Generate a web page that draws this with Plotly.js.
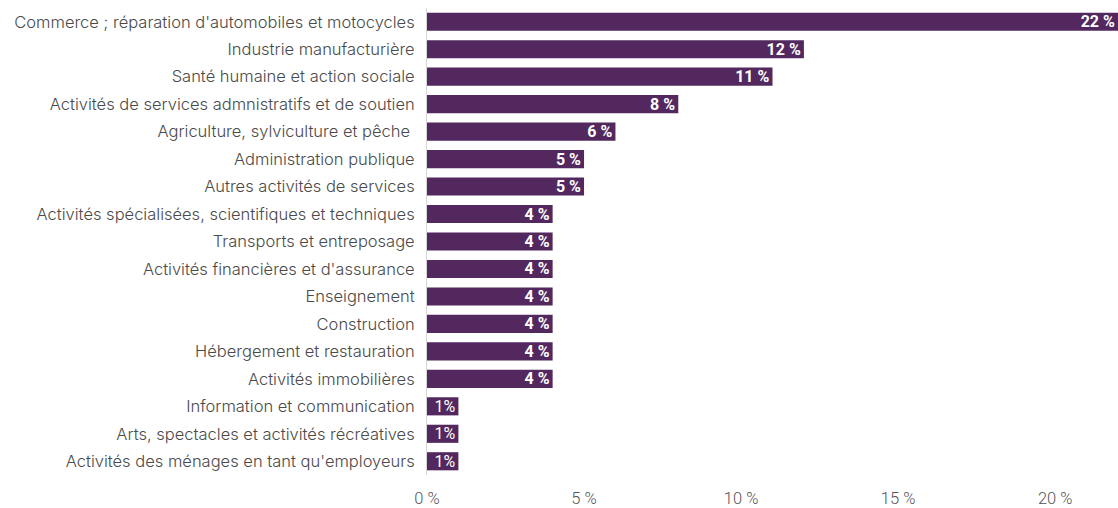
<!DOCTYPE html>
<html><head><meta charset="utf-8">
<script src="https://cdn.plot.ly/plotly-3.0.1.min.js"></script>
<style>html,body{margin:0;padding:0;background:#fff;}#chart{width:1118px;height:508px;}</style>
</head><body><div id="chart"></div>
<script>
const categories = [
  "Commerce ; réparation d'automobiles et motocycles",
  "Industrie manufacturière",
  "Santé humaine et action sociale",
  "Activités de services admnistratifs et de soutien",
  "Agriculture, sylviculture et pêche ",
  "Administration publique",
  "Autres activités de services",
  "Activités spécialisées, scientifiques et techniques",
  "Transports et entreposage",
  "Activités financières et d'assurance",
  "Enseignement",
  "Construction",
  "Hébergement et restauration",
  "Activités immobilières",
  "Information et communication",
  "Arts, spectacles et activités récréatives",
  "Activités des ménages en tant qu'employeurs"
];
const values = [22, 12, 11, 8, 6, 5, 5, 4, 4, 4, 4, 4, 4, 4, 1, 1, 1];
const valueLabels = ["22 %","12 %","11 %","8 %","6 %","5 %","5 %","4 %","4 %","4 %","4 %","4 %","4 %","4 %","1%","1%","1%"];
const tickValues = [0, 5, 10, 15, 20];
const tickLabels = ["0 %", "5 %", "10 %", "15 %", "20 %"];

const trace = {
  type: 'bar',
  orientation: 'h',
  y: categories,
  x: values,
  text: valueLabels,
  textposition: 'inside',
  insidetextanchor: 'end',
  textangle: 0,
  constraintext: 'none',
  textfont: {
    family: 'Roboto, sans-serif',
    size: 16,
    color: '#ffffff',
    weight: values.map(v => v > 1 ? 700 : 400)
  },
  marker: {color: '#52285f'},
  hoverinfo: 'none'
};

const layout = {
  width: 1118, height: 508,
  margin: {l: 427, r: 0, t: 8, b: 33, pad: 0},
  paper_bgcolor: '#fff', plot_bgcolor: '#fff',
  bargap: 0.34,
  showlegend: false,
  font: {family: 'Inter, sans-serif', color: '#444'},
  xaxis: {
    range: [0, 22],
    tickvals: tickValues,
    ticktext: tickLabels,
    showgrid: false, zeroline: false, showline: false,
    ticks: '',
    ticklabelstandoff: 11,
    tickfont: {family: 'Roboto, sans-serif', size: 16.5, color: '#555', weight: 300},
    fixedrange: true
  },
  yaxis: {
    autorange: 'reversed',
    showgrid: false, zeroline: false,
    showline: true, linecolor: '#d6d6d6', linewidth: 1,
    ticks: '',
    ticklabelstandoff: 8,
    tickfont: {family: 'Inter, sans-serif', size: 16.5, color: '#4a4a4a', weight: 300},
    fixedrange: true
  }
};

Plotly.newPlot('chart', [trace], layout, {displayModeBar: false, staticPlot: true});
</script></body></html>
